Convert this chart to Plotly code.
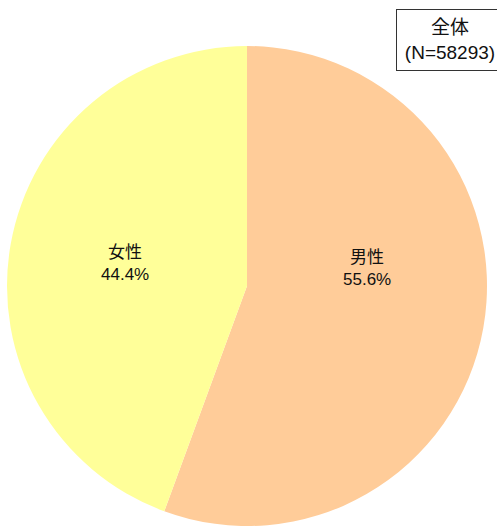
import plotly.graph_objects as go

labels = ["男性", "女性"]
values = [55.6, 44.4]
colors = ["#FFCC99", "#FFFF99"]
title_text = "全体<br>(N=58293)"

W, H = 497, 527
FONT = "Liberation Sans, Arial, Noto Sans CJK JP"

fig = go.Figure(go.Pie(
    labels=labels,
    values=values,
    sort=False,
    direction="clockwise",
    rotation=0,
    marker=dict(colors=colors, line=dict(width=0)),
    textinfo="none",
    hoverinfo="skip",
    showlegend=False,
    domain=dict(x=[7 / W, 487 / W], y=[(H - 526) / H, (H - 46) / H]),
))

# slice labels (layout positions in pixels)
label_pos = [(367, 268), (125, 263)]
for lab, val, (px, py) in zip(labels, values, label_pos):
    fig.add_annotation(
        text=f"{lab}<br>{val:.1f}%",
        xref="paper", yref="paper",
        x=px / W, y=1 - py / H,
        xanchor="center", yanchor="middle",
        showarrow=False,
        font=dict(family=FONT, size=17, color="#111111"),
    )

fig.add_annotation(
    text=title_text,
    xref="paper", yref="paper",
    x=396 / W, y=1 - 9 / H,
    xanchor="left", yanchor="top",
    showarrow=False,
    font=dict(family=FONT, size=19, color="#111111"),
    bordercolor="#333333", borderwidth=1, borderpad=3,
    bgcolor="white",
    width=100, height=54,
)

fig.update_layout(
    width=W, height=H,
    margin=dict(l=0, r=0, t=0, b=0),
    paper_bgcolor="white",
    plot_bgcolor="white",
)

fig.write_html("out.html")
